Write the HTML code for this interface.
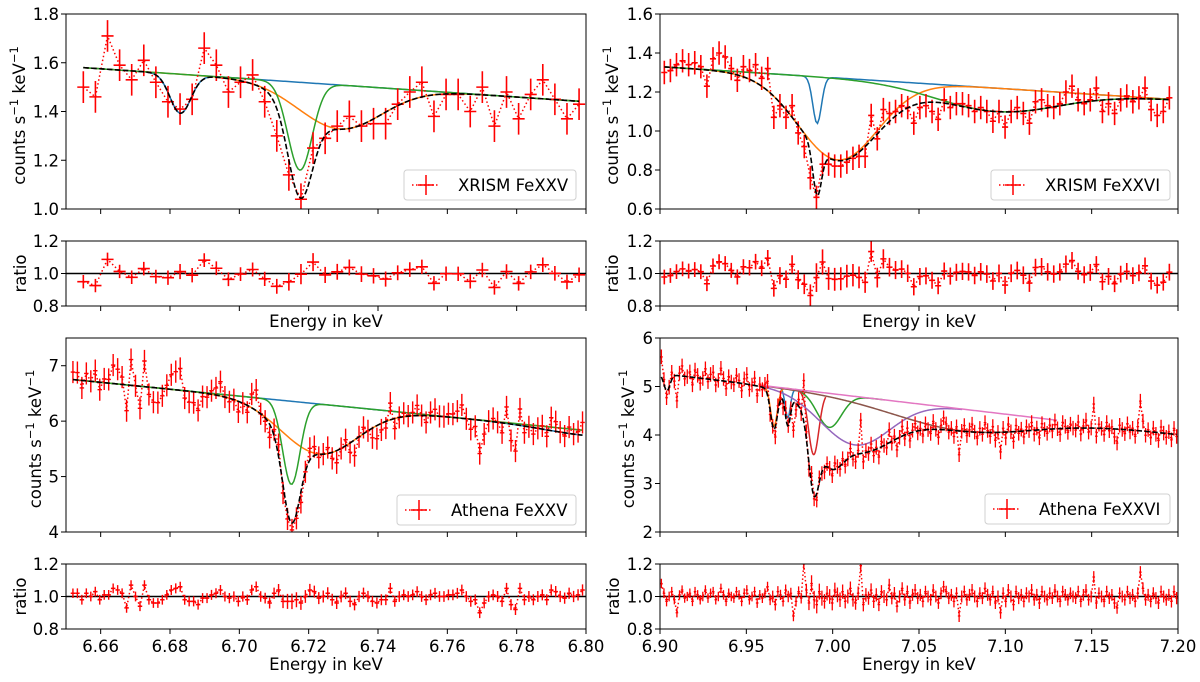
<!DOCTYPE html>
<html><head><meta charset="utf-8">
<style>
html,body{margin:0;padding:0;background:#fff;}
svg{display:block;font-family:"DejaVu Sans","Liberation Sans",sans-serif;}
</style></head>
<body>
<svg id="fig" width="1200" height="682" viewBox="0 0 1200 682" xmlns="http://www.w3.org/2000/svg"></svg>
<script>
// ---------- DATA ----------
// XRISM FeXXV (top-left) counts
const tlCounts=[1.50,1.46,1.71,1.59,1.53,1.61,1.52,1.44,1.41,1.45,1.66,1.59,1.48,1.52,1.55,1.44,1.30,1.14,1.04,1.25,1.29,1.34,1.38,1.34,1.35,1.35,1.43,1.48,1.52,1.38,1.47,1.47,1.40,1.50,1.34,1.48,1.37,1.47,1.53,1.45,1.37,1.43];
const tlRange=[6.655,6.798];
const tlErr=0.065;
const tlCont=[6.655,1.58,6.80,1.44];
const tlCenters=[6.683,6.729,6.7175];
const tlDepths=[0.16,0.18,0.36];
const tlWidths=[0.003,0.012,0.0035];
// XRISM FeXXVI (top-right) counts
const trCounts=[1.30,1.31,1.34,1.36,1.34,1.35,1.33,1.23,1.37,1.40,1.38,1.32,1.26,1.33,1.31,1.34,1.27,1.32,1.07,1.13,1.07,1.13,0.99,0.92,0.76,0.66,0.83,0.83,0.82,0.82,0.84,0.86,0.87,0.87,1.08,0.96,1.11,1.09,1.10,1.13,1.12,1.04,1.12,1.13,1.10,1.06,1.16,1.12,1.14,1.14,1.13,1.10,1.12,1.10,1.05,1.10,1.02,1.10,1.12,1.09,1.04,1.15,1.16,1.13,1.12,1.14,1.20,1.23,1.16,1.14,1.16,1.22,1.10,1.14,1.09,1.16,1.18,1.15,1.17,1.22,1.11,1.08,1.10,1.17];
const trRange=[6.9025,7.195];
const trErr=0.06;
const trCont=[6.90,1.33,7.20,1.16];
const trCenters=[6.991,7.003,7.095];
const trDepths=[0.24,0.42,0.12];
const trWidths=[0.0025,0.023,0.035];
// Athena FeXXV (bottom-left) ratio residuals
const blRatio=[1.02,1.02,0.98,1.02,1.00,1.03,0.98,1.01,1.01,1.05,1.04,1.02,0.93,1.07,1.00,0.94,1.07,0.98,0.96,0.96,0.98,1.01,1.04,1.05,1.06,0.98,0.97,0.97,0.95,0.99,0.99,1.01,1.02,1.04,1.00,0.99,1.00,0.97,1.00,0.98,1.04,1.06,1.00,0.99,0.96,1.02,1.04,0.97,0.97,0.97,0.98,0.96,1.00,1.04,1.03,0.99,1.00,1.02,0.98,0.96,1.00,1.02,0.97,0.95,1.00,1.02,1.00,0.97,0.96,0.98,0.98,1.05,0.97,1.00,1.01,1.00,1.01,1.03,1.00,0.98,1.01,1.02,1.00,1.00,1.01,1.01,1.02,1.04,1.00,0.97,0.98,0.90,0.96,1.00,1.01,1.00,0.97,1.05,0.95,0.92,1.05,0.98,1.00,0.98,1.00,1.01,0.98,1.04,1.03,1.00,0.99,1.02,1.00,1.01,1.04];
const blRange=[6.652,6.799];
const blErr=0.2;
const blCont=[6.652,6.75,6.80,5.83];
const blCenters=[6.80,6.723,6.715];
const blDepths=[0.09,0.9,1.5];
const blWidths=[0.012,0.011,0.0025];
// Athena FeXXVI (bottom-right) ratio residuals
const brRatio=[1.08,1.02,0.97,1.00,1.03,0.98,0.90,1.01,1.04,0.99,
1.00,1.02,0.97,1.03,1.01,0.98,1.00,1.04,0.99,1.02,
1.03,0.98,1.00,1.05,1.01,0.97,1.02,1.00,0.99,1.03,
1.01,0.97,1.02,1.04,0.98,1.00,1.03,0.96,1.01,0.99,
1.02,1.06,0.98,1.00,0.95,1.03,1.01,0.97,1.04,1.00,
1.02,0.88,0.97,1.03,0.99,1.20,1.04,0.96,1.08,0.98,
0.95,1.03,0.99,0.97,1.02,1.00,0.96,1.04,1.01,0.98,
1.03,0.97,1.00,1.05,0.98,0.96,1.02,1.19,0.95,1.01,
0.99,1.04,0.97,1.01,0.95,1.03,1.00,0.98,1.07,0.99,
1.02,0.94,1.00,1.05,0.98,1.03,0.96,1.01,1.04,0.99,
1.01,0.97,1.03,1.00,0.98,1.04,1.00,0.96,1.02,1.06,
1.03,0.99,1.01,0.97,1.02,0.88,1.00,1.03,0.98,1.01,
1.04,1.00,0.97,1.02,0.99,1.05,1.01,0.98,1.03,0.96,
1.00,0.90,1.02,0.97,1.04,1.00,0.95,1.03,0.99,1.01,
0.97,1.02,1.00,1.04,0.98,1.01,0.96,1.03,1.00,0.98,
1.02,0.99,1.04,1.00,0.97,1.03,1.01,0.98,1.02,1.00,
0.99,1.03,0.97,1.01,1.04,0.98,1.00,1.12,0.96,1.02,
1.00,0.97,1.03,0.99,1.01,0.96,0.93,1.02,1.00,0.98,
1.03,0.99,1.01,0.97,1.02,1.15,1.05,0.98,1.01,0.97,
1.02,0.99,0.96,1.03,1.00,0.98,1.01,0.97,1.03,0.99];
const brRange=[6.9008,7.1992];
const brErr=0.15;
const brCont=[6.90,5.27,7.20,4.01];
const brCenters=[6.974,6.966,6.998,6.989,7.013,7.075,7.5,6.904];
const brDepths=[0.6,0.8,0.7,1.3,1.0,0.45,0,0.34];
const brWidths=[0.0015,0.002,0.007,0.003,0.02,0.04,0.01,0.0018];
const brCompLo=[6.970,6.958,6.975,6.978,6.958,6.958,6.958];
const brCompHi=[6.978,6.976,7.030,6.996,7.075,7.110,7.130];

const xTicksL=[6.66,6.68,6.70,6.72,6.74,6.76,6.78,6.80];
const xTickLabelsL=["6.66","6.68","6.70","6.72","6.74","6.76","6.78","6.80"];
const xTicksR=[6.90,6.95,7.00,7.05,7.10,7.15,7.20];
const xTickLabelsR=["6.90","6.95","7.00","7.05","7.10","7.15","7.20"];
const yTicksTL=[1.0,1.2,1.4,1.6,1.8];
const yTicksTR=[0.6,0.8,1.0,1.2,1.4,1.6];
const yTicksBL=[4,5,6,7];
const yTicksBR=[2,3,4,5,6];
const rTicks=[0.8,1.0,1.2];

// ---------- STYLE ----------
const COLORS=["#1f77b4","#ff7f0e","#2ca02c","#d62728","#9467bd","#8c564b","#e377c2"];
const NS="http://www.w3.org/2000/svg";
const svg=document.getElementById('fig');
function mk(tag,attrs,parent){const e=document.createElementNS(NS,tag);for(const k in attrs)e.setAttribute(k,attrs[k]);(parent||svg).appendChild(e);return e;}
function gauss(x,c,d,s){return d*Math.exp(-(x-c)*(x-c)/(2*s*s));}
function contV(cp,x){return cp[1]+(cp[3]-cp[1])*(x-cp[0])/(cp[2]-cp[0]);}
function totalV(p,x){let v=contV(p.cont,x);for(let i=0;i<p.centers.length;i++)v-=gauss(x,p.centers[i],p.depths[i],p.widths[i]);return v;}
function compV(p,i,x){return contV(p.cont,x)-gauss(x,p.centers[i],p.depths[i],p.widths[i]);}

let clipId=0;
function drawPanel(p){
  const g=mk('g',{});
  
  
  const n=p.n;
  const step=(p.range[1]-p.range[0])/(n-1);
  const E=[];for(let i=0;i<n;i++)E.push(p.range[0]+i*step);
  const M=E.map(x=>totalV(p,x));
  let C,R;
  if(p.counts){C=p.counts.slice();R=C.map((c,i)=>c/M[i]);}
  else {R=p.ratio.slice();C=R.map((r,i)=>r*M[i]);}
  const sx=x=>p.x0+(x-p.xmin)/(p.xmax-p.xmin)*(p.x1-p.x0);
  const makeAxes=(y0,y1,ymin,ymax,yt,ylabels,showX,kind)=>{
    const sy=v=>y1-(v-ymin)/(ymax-ymin)*(y1-y0);
    const id='clip'+(clipId++);
    const cp=mk('clipPath',{id:id},g);
    mk('rect',{x:p.x0,y:y0,width:p.x1-p.x0,height:y1-y0},cp);
    const plot=mk('g',{'clip-path':'url(#'+id+')'},g);
    
    
    p.xt.forEach((t,i)=>{
      const tk=mk('line',{x1:sx(t),x2:sx(t),y1:y1,y2:y1+5,stroke:'#000','stroke-width':1},g);
      
      
      if(showX){
        const tl=mk('text',{x:sx(t),y:y1+23,'text-anchor':'middle','font-size':16.5,fill:'#000'},g);
        tl.textContent=p.xtl[i];
        
        
      }
    });
    yt.forEach((t,i)=>{
      const tk=mk('line',{x1:p.x0-5,x2:p.x0,y1:sy(t),y2:sy(t),stroke:'#000','stroke-width':1},g);
      
      
      const tl=mk('text',{x:p.x0-7,y:sy(t)+6,'text-anchor':'end','font-size':16.5,fill:'#000'},g);
      tl.textContent=ylabels[i];
      
      
    });
    return {plot,sy,y0,y1};
  };
  const yl=p.yt.map(v=>p.ytFmt(v));
  const A=makeAxes(p.y0,p.y1,p.ymin,p.ymax,p.yt,yl,false,'main');
  const sy=A.sy;
  const nc=p.nComp;
  for(let i=0;i<nc;i++){
    const lo=p.compLo?p.compLo[i]:E[0], hi=p.compHi?p.compHi[i]:E[n-1];
    let d='';const N=300;
    for(let k=0;k<=N;k++){const x=lo+(hi-lo)*k/N;d+=(k?'L':'M')+sx(x).toFixed(2)+','+sy(compV(p,i,x)).toFixed(2);}
    const pl=mk('path',{d:d,fill:'none',stroke:COLORS[i],'stroke-width':1.5},A.plot);
    
    
  }
  let dd='';E.forEach((x,i)=>{dd+=(i?'L':'M')+sx(x).toFixed(2)+','+sy(C[i]).toFixed(2);});
  const dl=mk('path',{d:dd,fill:'none',stroke:'#ff0000','stroke-width':1.5,'stroke-dasharray':'1.5,2.5'},A.plot);
  
  
  const eg=mk('g',{stroke:'#ff0000','stroke-width':p.ew},A.plot);
  
  
  E.forEach((x,i)=>{
    const pt=mk('path',{d:'M'+sx(x-step/2).toFixed(2)+','+sy(C[i]).toFixed(2)+'L'+sx(x+step/2).toFixed(2)+','+sy(C[i]).toFixed(2)+'M'+sx(x).toFixed(2)+','+sy(C[i]-p.err).toFixed(2)+'L'+sx(x).toFixed(2)+','+sy(C[i]+p.err).toFixed(2)},eg);
    
    
  });
  let dm='';const N2=600;
  for(let k=0;k<=N2;k++){const x=E[0]+(E[n-1]-E[0])*k/N2;dm+=(k?'L':'M')+sx(x).toFixed(2)+','+sy(totalV(p,x)).toFixed(2);}
  const ml=mk('path',{d:dm,fill:'none',stroke:'#000','stroke-width':1.6,'stroke-dasharray':'5.5,2.4'},A.plot);
  
  
  const fr=mk('rect',{x:p.x0,y:p.y0,width:p.x1-p.x0,height:p.y1-p.y0,fill:'none',stroke:'#000','stroke-width':1},g);
  
  
  const ylab=mk('text',{transform:'translate('+p.ylx+','+((p.y0+p.y1)/2+4)+') rotate(-90)','text-anchor':'middle','font-size':16.5,fill:'#000'},g);
  
  
  ylab.appendChild(document.createTextNode('counts s'));
  const s1=mk('tspan',{'font-size':11.5,dy:-7},ylab);s1.textContent='−1';
  const s2=mk('tspan',{dy:7},ylab);s2.textContent=' keV';
  const s3=mk('tspan',{'font-size':11.5,dy:-7},ylab);s3.textContent='−1';
  const lg=mk('g',{},g);
  
  
  const lx=p.leg[0],ly=p.leg[1],lw=p.leg[2];
  mk('rect',{x:lx,y:ly,width:lw,height:30,rx:3,fill:'#fff','fill-opacity':0.8,stroke:'#d0d0d0','stroke-width':1},lg);
  mk('line',{x1:lx+8,x2:lx+36,y1:ly+15,y2:ly+15,stroke:'#ff0000','stroke-width':1.5,'stroke-dasharray':'1.5,2.5'},lg);
  mk('line',{x1:lx+14,x2:lx+30,y1:ly+15,y2:ly+15,stroke:'#ff0000','stroke-width':1.5},lg);
  mk('line',{x1:lx+22,x2:lx+22,y1:ly+5,y2:ly+25,stroke:'#ff0000','stroke-width':1.5},lg);
  const lt=mk('text',{x:lx+54,y:ly+21,'font-size':16.5,fill:'#000'},lg);
  lt.textContent=p.label;
  
  
  const B=makeAxes(p.ry0,p.ry1,0.8,1.2,rTicks,["0.8","1.0","1.2"],p.showX,'ratio');
  const hl=mk('line',{x1:p.x0,x2:p.x1,y1:B.sy(1),y2:B.sy(1),stroke:'#000','stroke-width':1.6},B.plot);
  
  
  let rd='';E.forEach((x,i)=>{rd+=(i?'L':'M')+sx(x).toFixed(2)+','+B.sy(R[i]).toFixed(2);});
  const rl=mk('path',{d:rd,fill:'none',stroke:'#ff0000','stroke-width':1.5,'stroke-dasharray':'1.5,2.5'},B.plot);
  
  
  const rg=mk('g',{stroke:'#ff0000','stroke-width':p.ew},B.plot);
  
  
  E.forEach((x,i)=>{
    const re=p.err/M[i];
    const pt=mk('path',{d:'M'+sx(x-step/2).toFixed(2)+','+B.sy(R[i]).toFixed(2)+'L'+sx(x+step/2).toFixed(2)+','+B.sy(R[i]).toFixed(2)+'M'+sx(x).toFixed(2)+','+B.sy(R[i]-re).toFixed(2)+'L'+sx(x).toFixed(2)+','+B.sy(R[i]+re).toFixed(2)},rg);
    
    
  });
  const fr2=mk('rect',{x:p.x0,y:p.ry0,width:p.x1-p.x0,height:p.ry1-p.ry0,fill:'none',stroke:'#000','stroke-width':1},g);
  
  
  const rlab=mk('text',{transform:'translate('+p.rlx+','+((p.ry0+p.ry1)/2)+') rotate(-90)','text-anchor':'middle','font-size':16.5,fill:'#000'},g);
  rlab.textContent='ratio';
  
  
  const xl=mk('text',{x:(p.x0+p.x1)/2,y:p.xly,'text-anchor':'middle','font-size':16.5,fill:'#000'},g);
  xl.textContent='Energy in keV';
  
  
}
const f2=v=>v.toFixed(1);
const f0=v=>v.toFixed(0);
drawPanel({name:'xrism-fexxv',counts:tlCounts,n:tlCounts.length,range:tlRange,err:tlErr,cont:tlCont,centers:tlCenters,depths:tlDepths,widths:tlWidths,nComp:3,
  x0:66,x1:586,y0:14,y1:209,xmin:6.65,xmax:6.80,ymin:1.0,ymax:1.8,yt:yTicksTL,ytFmt:f2,xt:xTicksL,xtl:xTickLabelsL,
  ry0:241,ry1:306,showX:false,xly:327,ylx:25,rlx:26,leg:[404,170,172],label:'XRISM FeXXV',ew:1.6});
drawPanel({name:'xrism-fexxvi',counts:trCounts,n:trCounts.length,range:trRange,err:trErr,cont:trCont,centers:trCenters,depths:trDepths,widths:trWidths,nComp:3,
  x0:660,x1:1178,y0:14,y1:209,xmin:6.90,xmax:7.20,ymin:0.6,ymax:1.6,yt:yTicksTR,ytFmt:f2,xt:xTicksR,xtl:xTickLabelsR,
  ry0:241,ry1:306,showX:false,xly:327,ylx:618,rlx:618,leg:[991,170,179],label:'XRISM FeXXVI',ew:1.6});
drawPanel({name:'athena-fexxv',ratio:blRatio,n:blRatio.length,range:blRange,err:blErr,cont:blCont,centers:blCenters,depths:blDepths,widths:blWidths,nComp:3,
  x0:66,x1:586,y0:338,y1:532,xmin:6.65,xmax:6.80,ymin:4,ymax:7.5,yt:yTicksBL,ytFmt:f0,xt:xTicksL,xtl:xTickLabelsL,
  ry0:564,ry1:629,showX:true,xly:670,ylx:41,rlx:26,leg:[397,495,179],label:'Athena FeXXV',ew:1.4});
drawPanel({name:'athena-fexxvi',ratio:brRatio,n:brRatio.length,range:brRange,err:brErr,cont:brCont,centers:brCenters,depths:brDepths,widths:brWidths,nComp:7,compLo:brCompLo,compHi:brCompHi,
  x0:660,x1:1178,y0:338,y1:532,xmin:6.90,xmax:7.20,ymin:2,ymax:6,yt:yTicksBR,ytFmt:f0,xt:xTicksR,xtl:xTickLabelsR,
  ry0:564,ry1:629,showX:true,xly:670,ylx:634,rlx:619,leg:[985,494,185],label:'Athena FeXXVI',ew:1.3});
</script>
</body></html>
